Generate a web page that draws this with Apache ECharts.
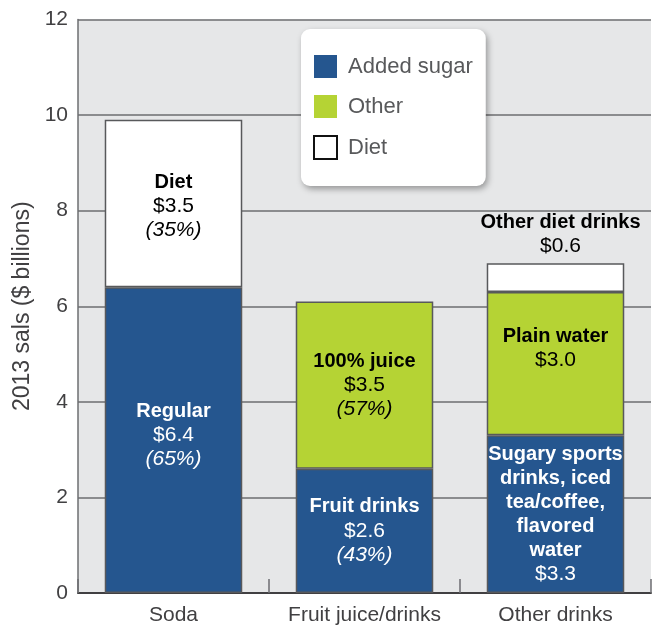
<!DOCTYPE html>
<html>
<head>
<meta charset="utf-8">
<script src="https://cdn.jsdelivr.net/npm/echarts@6/dist/echarts.min.js"></script>
<style>
  html, body { margin: 0; padding: 0; background: #fff; }
  #main { width: 653px; height: 630px; }
</style>
</head>
<body>
<div id="main"></div>
<script>
var categories = ['Soda', 'Fruit juice/drinks', 'Other drinks'];
var yTicks = [0, 2, 4, 6, 8, 10, 12];

// $ billions, 2013
var addedSugar = [6.4, 2.6, 3.3];
var otherVals = [null, 3.5, 3.0];
var dietVals = [3.5, null, 0.6];

var addedNames = ['Regular', 'Fruit drinks', 'Sugary sports\ndrinks, iced\ntea/coffee,\nflavored\nwater'];
var addedPct = ['65%', '43%', null];
var otherNames = [null, '100% juice', 'Plain water'];
var otherPct = [null, '57%', null];
var dietNames = ['Diet', null, 'Other diet drinks'];
var dietPct = ['35%', null, null];

var BLUE = '#25568f', GREEN = '#b5d334', EDGE = '#58595b';
var plain = "'Liberation Sans', Arial, sans-serif";

function makeLabel(names, pcts) {
    return function (p) {
        var i = p.dataIndex;
        var out = names[i].split('\n').map(function (l) { return '{bold|' + l + '}'; });
        out.push('{num|$' + p.value.toFixed(1) + '}');
        if (pcts[i]) out.push('{pct|(' + pcts[i] + ')}');
        return out.join('\n');
    };
}

function richFor(color) {
    return {
        bold: { fontFamily: plain, fontWeight: 'bold', fontSize: 20, lineHeight: 24, color: color },
        num: { fontFamily: plain, fontSize: 21, lineHeight: 24, color: color },
        pct: { fontFamily: plain, fontStyle: 'italic', fontSize: 21, lineHeight: 24, color: color }
    };
}

var labelShift = { addedSugar: [-5, 0, 0], other: [0, 0, -15], diet: [3, 0, 0] };

function buildData(vals, key) {
    return vals.map(function (v, i) {
        if (v == null) return null;
        var item = { value: v, label: { offset: [0, labelShift[key][i]] } };
        if (key === 'diet' && i === 2) {
            item.label = { position: 'top', distance: 5, offset: [5, 0] };
        }
        return item;
    });
}

var myChart = echarts.init(document.getElementById('main'));
var option = {
    backgroundColor: '#fff',
    animation: false,
    grid: {
        left: 78, right: 2, top: 19.5, bottom: 37,
        show: true, backgroundColor: '#e6e7e8', borderWidth: 0
    },
    legend: {
        left: 301, top: 29,
        orient: 'vertical',
        icon: 'rect',
        itemWidth: 23, itemHeight: 23, itemGap: 17,
        padding: [26, 13, 26, 12],
        backgroundColor: '#fff',
        borderRadius: 9,
        shadowBlur: 6, shadowColor: 'rgba(0,0,0,0.35)', shadowOffsetX: 2, shadowOffsetY: 3,
        itemStyle: { borderWidth: 0 },
        textStyle: { fontFamily: plain, fontSize: 22, color: '#58595b', padding: [0, 0, 0, 6] },
        data: [
            { name: 'Added sugar' },
            { name: 'Other' },
            { name: 'Diet', itemStyle: { color: '#fff', borderColor: '#111', borderWidth: 2 } }
        ]
    },
    xAxis: {
        type: 'category',
        data: categories,
        axisLine: { lineStyle: { color: '#414042', width: 2 } },
        axisTick: { show: true, inside: true, interval: 0, length: 14, lineStyle: { color: '#6d6e71', width: 1.5 } },
        axisLabel: { interval: 0, hideOverlap: false, fontFamily: plain, fontSize: 21, color: '#414042', margin: 12 }
    },
    yAxis: {
        type: 'value',
        min: yTicks[0], max: yTicks[yTicks.length - 1], interval: 2,
        name: '2013 sals ($ billions)',
        nameLocation: 'middle',
        nameGap: 43,
        nameTextStyle: { fontFamily: plain, fontSize: 23, color: '#414042' },
        axisLine: { show: true, lineStyle: { color: '#6d6e71', width: 1.5 } },
        axisTick: { show: false },
        axisLabel: { fontFamily: plain, fontSize: 21, color: '#414042', margin: 10 },
        splitLine: { show: true, lineStyle: { color: '#6d6e71', width: 1.5 } }
    },
    series: [
        {
            name: 'Added sugar', type: 'bar', stack: 'total', barWidth: '72%',
            data: buildData(addedSugar, 'addedSugar'),
            itemStyle: { color: BLUE, borderColor: EDGE, borderWidth: 1.5 },
            label: { show: true, position: 'inside', formatter: makeLabel(addedNames, addedPct), rich: richFor('#fff') }
        },
        {
            name: 'Other', type: 'bar', stack: 'total',
            data: buildData(otherVals, 'other'),
            itemStyle: { color: GREEN, borderColor: EDGE, borderWidth: 1.5 },
            label: { show: true, position: 'inside', formatter: makeLabel(otherNames, otherPct), rich: richFor('#000') }
        },
        {
            name: 'Diet', type: 'bar', stack: 'total',
            data: buildData(dietVals, 'diet'),
            itemStyle: { color: '#fff', borderColor: EDGE, borderWidth: 1.5 },
            label: { show: true, position: 'inside', formatter: makeLabel(dietNames, dietPct), rich: richFor('#000') }
        }
    ]
};
myChart.setOption(option);
</script>
</body>
</html>
